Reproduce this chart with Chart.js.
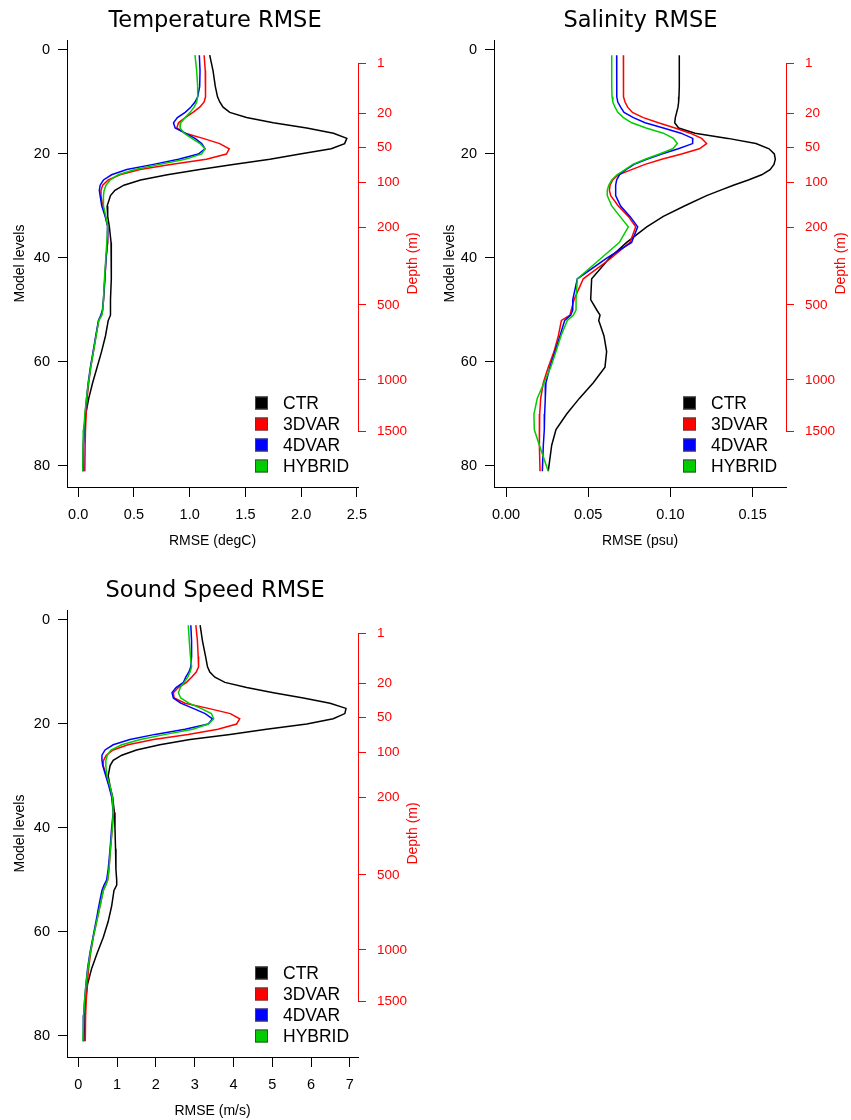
<!DOCTYPE html>
<html>
<head>
<meta charset="utf-8">
<script src="https://cdn.jsdelivr.net/npm/chart.js@4.4.1/dist/chart.umd.min.js"></script>
<style>
  html, body { margin: 0; padding: 0; background: #fff; overflow: hidden; }
  .panel { position: absolute; }
</style>
</head>
<body>
<div class="panel" style="left:0;top:0"><canvas id="tempChart" width="430" height="560"></canvas></div>
<div class="panel" style="left:430px;top:0"><canvas id="salChart" width="421" height="560"></canvas></div>
<div class="panel" style="left:0;top:570px"><canvas id="soundChart" width="430" height="560"></canvas></div>
<script>
const levels = [1, 4, 7, 9, 10, 11, 12, 13, 14, 15, 16, 17, 18, 19, 20, 21, 22, 23, 24, 25, 26, 27, 28,
  30, 32, 34, 37, 40, 44, 48, 50, 51, 52, 55, 58, 61, 64, 67, 70, 73, 76, 81];

const seriesNames = ['CTR', '3DVAR', '4DVAR', 'HYBRID'];
const seriesColors = ['#000000', '#ff0000', '#0000ff', '#00cd00'];

// temperature RMSE (degC)
const tempCTR = [1.18, 1.21, 1.23, 1.25, 1.27, 1.30, 1.36, 1.51, 1.75, 2.05, 2.29, 2.41, 2.39, 2.27, 1.99, 1.72, 1.39, 1.09, 0.80, 0.56, 0.41, 0.33, 0.29,
  0.26, 0.265, 0.28, 0.295, 0.30, 0.295, 0.29, 0.29, 0.29, 0.27, 0.245, 0.21, 0.17, 0.13, 0.095, 0.068, 0.053, 0.046, 0.043];
const temp3DVAR = [1.13, 1.14, 1.145, 1.14, 1.13, 1.09, 1.03, 0.96, 0.90, 0.885, 0.96, 1.12, 1.27, 1.355, 1.33, 1.15, 0.83, 0.555, 0.375, 0.27, 0.22, 0.205, 0.205,
  0.22, 0.245, 0.265, 0.265, 0.25, 0.24, 0.228, 0.22, 0.21, 0.185, 0.16, 0.137, 0.113, 0.095, 0.08, 0.072, 0.066, 0.063, 0.06];
const temp4DVAR = [1.087, 1.093, 1.09, 1.072, 1.048, 1.01, 0.96, 0.89, 0.855, 0.87, 0.96, 1.048, 1.108, 1.138, 1.078, 0.90, 0.675, 0.436, 0.30, 0.227, 0.197, 0.19, 0.197,
  0.212, 0.242, 0.266, 0.263, 0.251, 0.239, 0.227, 0.218, 0.203, 0.182, 0.158, 0.134, 0.11, 0.09, 0.075, 0.063, 0.054, 0.048, 0.048];
const tempHYBRID = [1.048, 1.063, 1.072, 1.072, 1.063, 1.04, 1.004, 0.96, 0.92, 0.914, 0.95, 1.02, 1.093, 1.138, 1.108, 0.96, 0.735, 0.51, 0.36, 0.287, 0.25, 0.233, 0.227,
  0.227, 0.248, 0.266, 0.257, 0.248, 0.236, 0.227, 0.221, 0.212, 0.185, 0.161, 0.137, 0.113, 0.092, 0.075, 0.06, 0.051, 0.045, 0.042];

// salinity RMSE (psu)
const salCTR = [0.1054, 0.1054, 0.1054, 0.1052, 0.105, 0.1046, 0.1038, 0.103, 0.1026, 0.105, 0.115, 0.135, 0.152, 0.160, 0.1632, 0.1638, 0.163, 0.1606, 0.1555, 0.1474, 0.1383, 0.1302, 0.122,
  0.1085, 0.0957, 0.0856, 0.0734, 0.063, 0.0521, 0.0515, 0.0552, 0.0572, 0.0564, 0.0596, 0.0612, 0.0602, 0.0531, 0.0446, 0.0369, 0.0304, 0.0278, 0.0257];
const sal3DVAR = [0.0714, 0.0714, 0.0714, 0.0716, 0.0724, 0.074, 0.0769, 0.0835, 0.0927, 0.1028, 0.112, 0.119, 0.122, 0.1176, 0.1068, 0.0947, 0.0846, 0.0764, 0.0683, 0.0649, 0.0633, 0.0629, 0.0637,
  0.0683, 0.0744, 0.0789, 0.0754, 0.064, 0.047, 0.0414, 0.0397, 0.0389, 0.0337, 0.0318, 0.0292, 0.0257, 0.0227, 0.0211, 0.0205, 0.0203, 0.0203, 0.0207];
const sal4DVAR = [0.0673, 0.0673, 0.0673, 0.0675, 0.068, 0.0697, 0.0718, 0.0775, 0.0846, 0.0957, 0.1064, 0.1136, 0.1135, 0.1048, 0.0947, 0.0856, 0.0779, 0.073, 0.069, 0.0673, 0.0667, 0.0665, 0.0669,
  0.0697, 0.0754, 0.0801, 0.0764, 0.0615, 0.0434, 0.0406, 0.0406, 0.0393, 0.0357, 0.0328, 0.0298, 0.0267, 0.0243, 0.0239, 0.0235, 0.0233, 0.0227, 0.0221];
const salHYBRID = [0.0643, 0.0643, 0.0643, 0.0645, 0.065, 0.0663, 0.068, 0.0714, 0.0765, 0.0852, 0.0957, 0.1018, 0.1042, 0.1014, 0.0933, 0.0846, 0.0771, 0.0724, 0.0675, 0.0643, 0.0625, 0.0616, 0.0616,
  0.0643, 0.0693, 0.0744, 0.069, 0.058, 0.0434, 0.0426, 0.0426, 0.0409, 0.0373, 0.0334, 0.0304, 0.0272, 0.0231, 0.019, 0.017, 0.0172, 0.0203, 0.0257];

// sound speed RMSE (m/s)
const soundCTR = [3.14, 3.20, 3.28, 3.33, 3.39, 3.52, 3.78, 4.34, 5.03, 5.80, 6.49, 6.90, 6.87, 6.57, 5.89, 4.85, 3.91, 2.88, 2.10, 1.50, 1.12, 0.90, 0.82,
  0.77, 0.82, 0.885, 0.93, 0.945, 0.96, 0.97, 0.99, 0.99, 0.92, 0.86, 0.77, 0.645, 0.49, 0.345, 0.24, 0.19, 0.164, 0.146];
const sound3DVAR = [3.03, 3.07, 3.09, 3.10, 3.04, 2.92, 2.79, 2.58, 2.45, 2.47, 2.75, 3.35, 3.92, 4.16, 4.08, 3.60, 2.83, 1.94, 1.28, 0.90, 0.72, 0.65, 0.64,
  0.73, 0.80, 0.87, 0.91, 0.877, 0.83, 0.79, 0.757, 0.70, 0.645, 0.56, 0.473, 0.387, 0.318, 0.267, 0.232, 0.206, 0.189, 0.18];
const sound4DVAR = [2.90, 2.92, 2.92, 2.90, 2.85, 2.77, 2.71, 2.52, 2.415, 2.45, 2.64, 2.96, 3.27, 3.46, 3.35, 2.75, 1.98, 1.33, 0.90, 0.69, 0.61, 0.61, 0.63,
  0.71, 0.79, 0.86, 0.90, 0.86, 0.82, 0.77, 0.73, 0.66, 0.61, 0.53, 0.456, 0.378, 0.30, 0.24, 0.198, 0.164, 0.138, 0.13];
const soundHYBRID = [2.835, 2.86, 2.89, 2.92, 2.88, 2.82, 2.73, 2.63, 2.58, 2.64, 2.85, 3.16, 3.43, 3.49, 3.35, 2.95, 2.25, 1.60, 1.12, 0.84, 0.75, 0.71, 0.71,
  0.74, 0.82, 0.877, 0.90, 0.877, 0.83, 0.79, 0.757, 0.71, 0.645, 0.56, 0.473, 0.387, 0.31, 0.25, 0.198, 0.164, 0.138, 0.12];

// axis ticks
const levelTicks = [0, 20, 40, 60, 80];
const depthTickLabels = ['1', '20', '50', '100', '200', '500', '1000', '1500'];
const depthTickLevels = [2.56, 12.17, 18.79, 25.5, 34.17, 49.04, 63.46, 73.4];
const tempTicks = [0, 0.5, 1, 1.5, 2, 2.5];
const salTicks = [0, 0.05, 0.1, 0.15];
const soundTicks = [0, 1, 2, 3, 4, 5, 6, 7];

Chart.defaults.font.family = '"Liberation Sans", Arial, sans-serif';
Chart.defaults.color = '#000';

// red depth axis line (only between first and last tick) + its title
const depthAxis = {
  id: 'depthAxis',
  afterDraw(chart) {
    const s = chart.scales.depth;
    const ctx = chart.ctx;
    const top = s.getPixelForValue(depthTickLevels[0]);
    const bot = s.getPixelForValue(depthTickLevels[depthTickLevels.length - 1]);
    const x = Math.round(s.left) + 0.5;
    ctx.save();
    ctx.strokeStyle = '#ff0000';
    ctx.lineWidth = 1;
    ctx.beginPath();
    ctx.moveTo(x, top);
    ctx.lineTo(x, bot);
    ctx.stroke();
    ctx.translate(s.left + 55, (chart.chartArea.top + chart.chartArea.bottom) / 2);
    ctx.rotate(-Math.PI / 2);
    ctx.fillStyle = '#ff0000';
    ctx.font = '14px "Liberation Sans", Arial, sans-serif';
    ctx.textAlign = 'center';
    ctx.textBaseline = 'middle';
    ctx.fillText('Depth (m)', 0, 0);
    ctx.restore();
  }
};

// boxed legend in the lower right of the plot
const boxLegend = {
  id: 'boxLegend',
  afterDatasetsDraw(chart) {
    const {ctx, chartArea} = chart;
    const x0 = chartArea.right - 103;
    let y = chartArea.bottom - 84;
    ctx.save();
    ctx.font = '17.5px "Liberation Sans", Arial, sans-serif';
    ctx.textBaseline = 'middle';
    chart.data.datasets.forEach(ds => {
      ctx.fillStyle = ds.borderColor;
      ctx.fillRect(x0, y - 6.5, 13, 13);
      ctx.strokeStyle = '#444';
      ctx.lineWidth = 1;
      ctx.strokeRect(x0 + 0.5, y - 6, 12, 12);
      ctx.fillStyle = '#000';
      ctx.fillText(ds.label, x0 + 28, y + 1);
      y += 21;
    });
    ctx.restore();
  }
};

function makePanel(id, title, xTitle, series, xMin, xMax, xTicks, dec, leftW, rightW) {
  const datasets = series.map((vals, k) => ({
    label: seriesNames[k],
    data: levels.map((L, i) => ({x: vals[i], y: L})),
    borderColor: seriesColors[k],
    backgroundColor: seriesColors[k],
    borderWidth: 1.5,
    pointRadius: 0,
    showLine: true,
    tension: 0,
    order: 4 - k,
    yAxisID: 'y'
  }));
  return new Chart(document.getElementById(id), {
    type: 'scatter',
    data: {datasets},
    options: {
      responsive: false,
      animation: false,
      devicePixelRatio: 1,
      layout: {padding: 0},
      plugins: {
        legend: {display: false},
        tooltip: {enabled: false},
        title: {
          display: true, text: title, color: '#000',
          font: {family: '"DejaVu Sans", sans-serif', size: 22.5, weight: 'normal'},
          padding: {top: 8, bottom: 5}
        }
      },
      scales: {
        x: {
          type: 'linear', position: 'bottom', min: xMin, max: xMax,
          afterBuildTicks: s => { s.ticks = xTicks.map(v => ({value: v})); },
          afterFit: s => { s.height = 73; },
          border: {color: '#000', width: 1},
          grid: {drawOnChartArea: false, color: '#000', tickLength: 10},
          ticks: {color: '#000', font: {size: 14.5}, padding: 9, maxRotation: 0, autoSkip: false,
            callback: v => v.toFixed(dec)},
          title: {display: true, text: xTitle, color: '#000', font: {size: 14}, padding: {bottom: 10.5}}
        },
        y: {
          type: 'linear', position: 'left', reverse: true, min: -1.92, max: 84.04,
          afterBuildTicks: s => { s.ticks = levelTicks.map(v => ({value: v})); },
          afterFit: s => { s.width = leftW; },
          border: {color: '#000', width: 1},
          grid: {drawOnChartArea: false, color: '#000', tickLength: 9},
          ticks: {color: '#000', font: {size: 14.5}, padding: 8},
          title: {display: true, text: 'Model levels', color: '#000', font: {size: 14}, padding: {top: 12}}
        },
        depth: {
          type: 'linear', axis: 'y', position: 'right', reverse: true, min: -1.92, max: 84.04,
          afterBuildTicks: s => { s.ticks = depthTickLevels.map(v => ({value: v})); },
          afterFit: s => { s.width = rightW; },
          border: {display: false},
          grid: {drawOnChartArea: false, color: '#ff0000', tickLength: 8},
          ticks: {color: '#ff0000', font: {size: 13.5}, padding: 11, autoSkip: false,
            callback: (v, i) => depthTickLabels[i]}
        }
      }
    },
    plugins: [depthAxis, boxLegend]
  });
}

makePanel('tempChart', 'Temperature RMSE', 'RMSE (degC)',
  [tempCTR, temp3DVAR, temp4DVAR, tempHYBRID], -0.1, 2.51, tempTicks, 1, 67, 72);
makePanel('salChart', 'Salinity RMSE', 'RMSE (psu)',
  [salCTR, sal3DVAR, sal4DVAR, salHYBRID], -0.0073, 0.1703, salTicks, 2, 64, 65);
makePanel('soundChart', 'Sound Speed RMSE', 'RMSE (m/s)',
  [soundCTR, sound3DVAR, sound4DVAR, soundHYBRID], -0.291, 7.209, soundTicks, 0, 67, 72);
</script>
</body>
</html>
